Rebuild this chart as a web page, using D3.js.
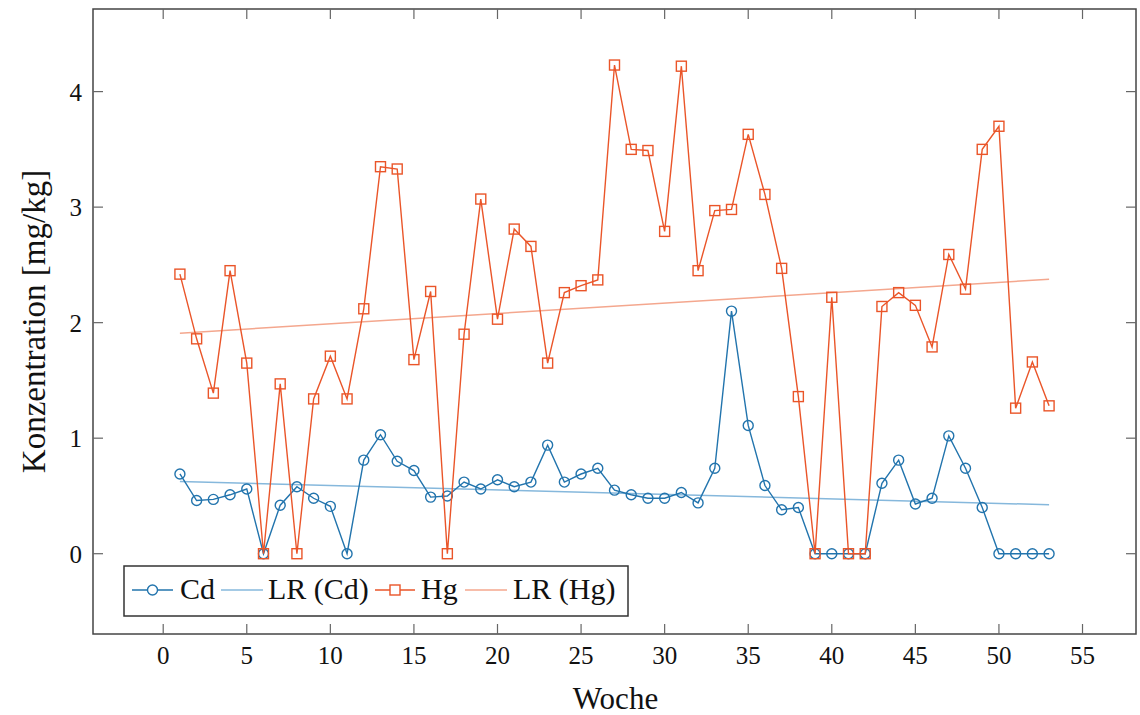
<!DOCTYPE html>
<html><head><meta charset="utf-8">
<script src="https://cdn.jsdelivr.net/npm/d3@7"></script>
<style>
html,body{margin:0;padding:0;background:#fff;}
svg{display:block;}
text{font-family:"Liberation Serif","DejaVu Serif",serif;fill:#111;}
</style></head>
<body>
<svg id="chart" width="1140" height="715"></svg>
<script>
const weeks = d3.range(1, 54);
const cd = [0.69,0.46,0.47,0.51,0.56,0,0.42,0.58,0.48,0.41,0,0.81,1.03,0.80,0.72,0.49,0.50,0.62,0.56,0.64,0.58,0.62,0.94,0.62,0.69,0.74,0.55,0.51,0.48,0.48,0.53,0.44,0.74,2.10,1.11,0.59,0.38,0.40,0,0,0,0,0.61,0.81,0.43,0.48,1.02,0.74,0.40,0,0,0,0];
const hg = [2.42,1.86,1.39,2.45,1.65,0,1.47,0,1.34,1.71,1.34,2.12,3.35,3.33,1.68,2.27,0,1.90,3.07,2.03,2.81,2.66,1.65,2.26,2.32,2.37,4.23,3.50,3.49,2.79,4.22,2.45,2.97,2.98,3.63,3.11,2.47,1.36,0,2.22,0,0,2.14,2.26,2.15,1.79,2.59,2.29,3.50,3.70,1.26,1.66,1.28];
const lrX = [1, 53];
const lrCd = [0.626, 0.424];
const lrHg = [1.909, 2.376];
const xTicks = [0,5,10,15,20,25,30,35,40,45,50,55];
const yTicks = [0,1,2,3,4];
const legendLabels = ["Cd","LR (Cd)","Hg","LR (Hg)"];

const colCd = "#2274ad", colCdLR = "#86b8dc", colHg = "#ea5529", colHgLR = "#f4a78e";

const svg = d3.select("#chart");
const L = 93, R = 1136, T = 9, B = 634;
const x = d3.scaleLinear().domain([-4.2, 58.2]).range([L, R]);
const y = d3.scaleLinear().domain([-0.695, 4.715]).range([B, T]);

// frame
svg.append("rect").attr("x", L).attr("y", T).attr("width", R - L).attr("height", B - T)
  .attr("fill", "none").attr("stroke", "#444").attr("stroke-width", 1.5);

const tickLen = 10;
const tg = svg.append("g").attr("stroke", "#666").attr("stroke-width", 1.2);
xTicks.forEach(v => {
  tg.append("line").attr("x1", x(v)).attr("x2", x(v)).attr("y1", B).attr("y2", B - tickLen);
  tg.append("line").attr("x1", x(v)).attr("x2", x(v)).attr("y1", T).attr("y2", T + tickLen);
});
yTicks.forEach(v => {
  tg.append("line").attr("y1", y(v)).attr("y2", y(v)).attr("x1", L).attr("x2", L + tickLen);
  tg.append("line").attr("y1", y(v)).attr("y2", y(v)).attr("x1", R).attr("x2", R - tickLen);
});

// tick labels
svg.append("g").selectAll("text").data(xTicks).join("text")
  .attr("x", d => x(d)).attr("y", 664).attr("text-anchor", "middle")
  .attr("font-size", 25).text(d => d);
svg.append("g").selectAll("text").data(yTicks).join("text")
  .attr("x", 82).attr("y", d => y(d) + 9).attr("text-anchor", "end")
  .attr("font-size", 25).text(d => d);

// axis labels
svg.append("text").attr("x", (L + R) / 2 + 1).attr("y", 709).attr("text-anchor", "middle")
  .attr("font-size", 31).text("Woche");
svg.append("text").attr("transform", `translate(45,${(T + B) / 2}) rotate(-90)`)
  .attr("text-anchor", "middle").attr("font-size", 33).text("Konzentration [mg/kg]");

const line = d3.line().x(d => x(d[0])).y(d => y(d[1]));
const cdPts = weeks.map((w, i) => [w, cd[i]]);
const hgPts = weeks.map((w, i) => [w, hg[i]]);

// regression lines
svg.append("path").attr("d", line(lrX.map((v, i) => [v, lrCd[i]])))
  .attr("fill", "none").attr("stroke", colCdLR).attr("stroke-width", 1.5);
svg.append("path").attr("d", line(lrX.map((v, i) => [v, lrHg[i]])))
  .attr("fill", "none").attr("stroke", colHgLR).attr("stroke-width", 1.5);

// Cd series
svg.append("path").attr("d", line(cdPts)).attr("fill", "none")
  .attr("stroke", colCd).attr("stroke-width", 1.4);
svg.append("g").selectAll("circle").data(cdPts).join("circle")
  .attr("cx", d => x(d[0])).attr("cy", d => y(d[1])).attr("r", 5)
  .attr("fill", "none").attr("stroke", colCd).attr("stroke-width", 1.4);

// Hg series
svg.append("path").attr("d", line(hgPts)).attr("fill", "none")
  .attr("stroke", colHg).attr("stroke-width", 1.4);
svg.append("g").selectAll("rect").data(hgPts).join("rect")
  .attr("x", d => x(d[0]) - 5).attr("y", d => y(d[1]) - 5).attr("width", 10).attr("height", 10)
  .attr("fill", "none").attr("stroke", colHg).attr("stroke-width", 1.4);

// legend
const lg = svg.append("g");
lg.append("rect").attr("x", 124).attr("y", 566).attr("width", 504).attr("height", 50)
  .attr("fill", "#fff").attr("stroke", "#333").attr("stroke-width", 1.5);
const items = [
  {x0: 132, x1: 173, tx: 180, col: colCd, mark: "circle"},
  {x0: 221, x1: 263, tx: 268, col: colCdLR, mark: null},
  {x0: 375, x1: 415, tx: 421, col: colHg, mark: "square"},
  {x0: 465, x1: 507, tx: 513, col: colHgLR, mark: null}
];
const ly = 590;
items.forEach((it, i) => {
  lg.append("line").attr("x1", it.x0).attr("x2", it.x1).attr("y1", ly).attr("y2", ly)
    .attr("stroke", it.col).attr("stroke-width", 1.5);
  const cx = (it.x0 + it.x1) / 2;
  if (it.mark === "circle") lg.append("circle").attr("cx", cx).attr("cy", ly).attr("r", 5)
    .attr("fill", "#fff").attr("stroke", it.col).attr("stroke-width", 1.4);
  if (it.mark === "square") lg.append("rect").attr("x", cx - 5).attr("y", ly - 5).attr("width", 10).attr("height", 10)
    .attr("fill", "#fff").attr("stroke", it.col).attr("stroke-width", 1.4);
  lg.append("text").attr("x", it.tx).attr("y", 599).attr("font-size", 30).text(legendLabels[i]);
});
</script>
</body></html>
